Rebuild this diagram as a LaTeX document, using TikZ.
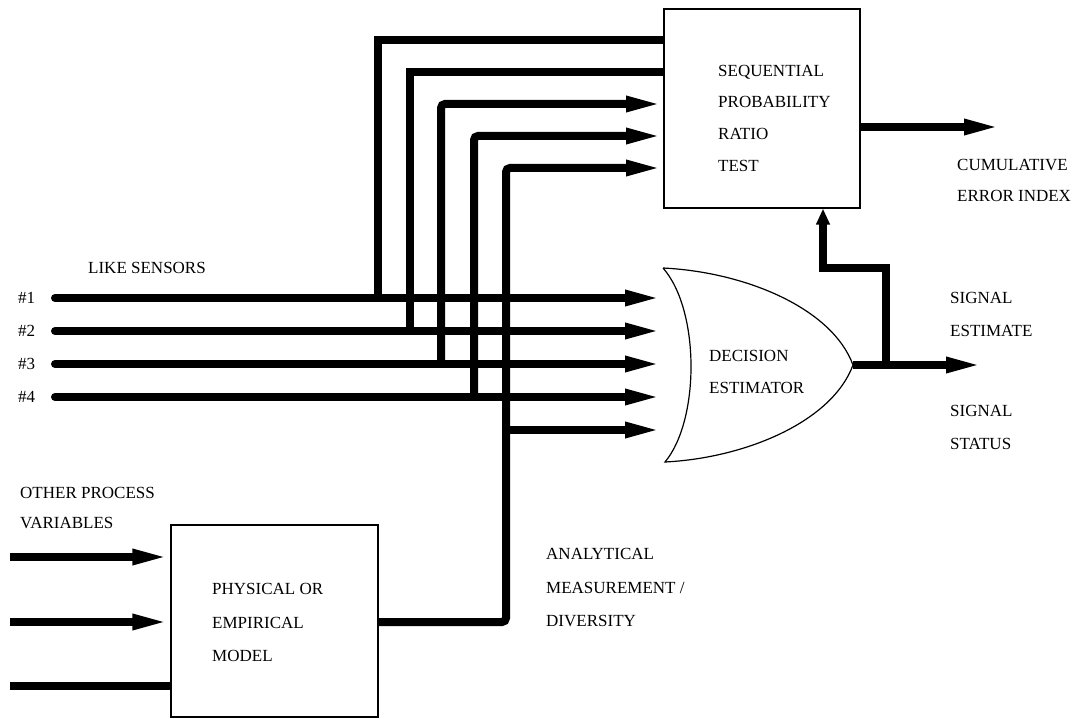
\documentclass[tikz,border=0pt]{standalone}
\usepackage{fontspec}
\setmainfont{Liberation Serif}
\usetikzlibrary{arrows.meta}
\begin{document}
\begin{tikzpicture}[x=1pt,y=-1pt,
  sig/.style={line width=8pt},
  sigarrow/.style={sig,-{Triangle[length=38pt,width=14pt]}},
  fbarrow/.style={sig,-{Triangle[length=16pt,width=13pt]}},
  frame/.style={draw,line width=1.2pt,inner sep=0pt},
  lbl/.style={anchor=base west,inner sep=0pt,font=\fontsize{17}{19}\selectfont}
]
\useasboundingbox (0,0) rectangle (1092,719);

% blocks
\node[frame,minimum width=196pt,minimum height=199pt] (sprt) at (762,108.5) {};
\node[frame,minimum width=207pt,minimum height=192pt] (model) at (274.5,621) {};
\draw[line width=1.2pt,fill=white] (663,268) .. controls (745,272) and (832,308) .. (853,365)
  .. controls (832,422) and (745,458) .. (665,462)
  .. controls (700,420) and (700,310) .. (663,268);
\coordinate (gate) at (853,365);

% texts in the blocks
\node[lbl] (sq1) at (718,77) {SEQUENTIAL};
\node[lbl] (sq2) at (718,108) {PROBABILITY};
\node[lbl] (sq3) at (718,140) {RATIO};
\node[lbl] (sq4) at (718,172) {TEST};
\node[lbl] (de1) at (709,361) {DECISION};
\node[lbl] (de2) at (709,393) {ESTIMATOR};
\node[lbl] (mo1) at (212,594) {PHYSICAL OR};
\node[lbl] (mo2) at (212,628) {EMPIRICAL};
\node[lbl] (mo3) at (212,661) {MODEL};

% outside labels
\node[lbl] (like) at (88,273) {LIKE SENSORS};
\node[lbl] (n1) at (18,303) {\#1};
\node[lbl] (n2) at (18,336) {\#2};
\node[lbl] (n3) at (18,369) {\#3};
\node[lbl] (n4) at (18,402) {\#4};
\node[lbl] (cum1) at (957,171) {CUMULATIVE};
\node[lbl] (cum2) at (957,202) {ERROR INDEX};
\node[lbl] (se1) at (950,303) {SIGNAL};
\node[lbl] (se2) at (950,336) {ESTIMATE};
\node[lbl] (ss1) at (950,416) {SIGNAL};
\node[lbl] (ss2) at (950,449) {STATUS};
\node[lbl] (op1) at (20,498) {OTHER PROCESS};
\node[lbl] (op2) at (20,528) {VARIABLES};
\node[lbl] (am1) at (546,559) {ANALYTICAL};
\node[lbl] (am2) at (546,593) {MEASUREMENT /};
\node[lbl] (am3) at (546,626) {DIVERSITY};

% sensor inputs and their taps
\coordinate (s1) at (55,298);  \coordinate (g1) at (663,298);
\coordinate (s2) at (55,331);  \coordinate (g2) at (663,331);
\coordinate (s3) at (55,364);  \coordinate (g3) at (663,364);
\coordinate (s4) at (55,397);  \coordinate (g4) at (663,397);
\coordinate (g5) at (663,430);
\coordinate (t1) at (378,298);  \coordinate (p1) at (664,40);
\coordinate (t2) at (410,331);  \coordinate (p2) at (664,72);
\coordinate (t3) at (441,364);  \coordinate (p3) at (664,104);
\coordinate (t4) at (474,397);  \coordinate (p4) at (664,136);
\coordinate (t5) at (506,430);  \coordinate (p5) at (664,168);
\coordinate (mo) at (506,622);

\draw[sig] (t1) |- (p1);
\draw[sig] (t2) |- (p2);
\draw[sigarrow,rounded corners=4pt] (t3) |- (p3);
\draw[sigarrow,rounded corners=4pt] (t4) |- (p4);
\draw[sigarrow,rounded corners=4pt] (model.east |- mo) -- (mo) |- (p5);
\draw[sigarrow] (t5) -- (g5);

\draw[sigarrow,line cap=round] (s1) -- (g1);
\draw[sigarrow,line cap=round] (s2) -- (g2);
\draw[sigarrow,line cap=round] (s3) -- (g3);
\draw[sigarrow,line cap=round] (s4) -- (g4);

% outputs
\coordinate (out) at (984,365);
\coordinate (fb) at (886,365);
\draw[sigarrow] (gate) -- (out);
\draw[fbarrow] (fb) -- (886,268) -- (823,268) -- (sprt.south -| 823,0);
\draw[sigarrow] (sprt.east |- 0,127) -- (1002,127);

% process variables into the model
\draw[sigarrow] (10,557) -- (model.west |- 0,557);
\draw[sigarrow] (10,622) -- (model.west |- 0,622);
\draw[sig] (10,686) -- (model.west |- 0,686);
\end{tikzpicture}
\end{document}
